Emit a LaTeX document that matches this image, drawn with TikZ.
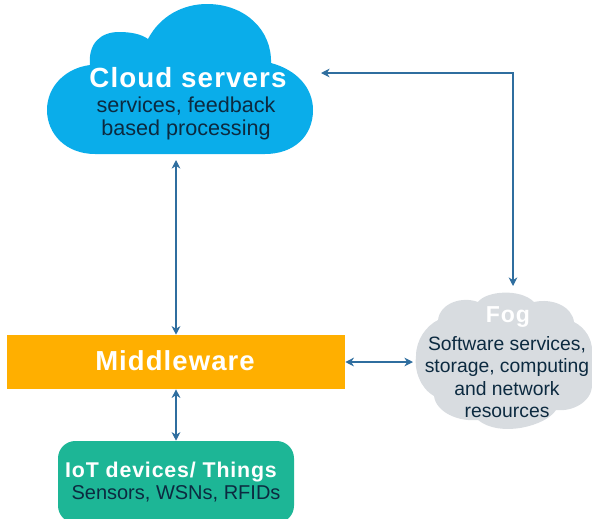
\documentclass[tikz,border=0pt]{standalone}
\usepackage{fontspec}
\setmainfont{Liberation Sans}
\definecolor{cloudblue}{HTML}{0AADEA}
\definecolor{foggrey}{HTML}{D8DCE0}
\definecolor{midorange}{HTML}{FFAF00}
\definecolor{iotgreen}{HTML}{1DB696}
\definecolor{linkblue}{HTML}{2F6E9F}
\definecolor{darktext}{HTML}{0C2A40}
\usetikzlibrary{arrows.meta}
\tikzset{
  link/.style={{Stealth[length=6.5pt,width=6.5pt]}-{Stealth[length=6.5pt,width=6.5pt]}, linkblue, line width=0.8pt},
  title/.style={text=white, font=\bfseries\addfontfeatures{LetterSpace=4}\fontsize{#1}{#1}\selectfont},
  body/.style={text=darktext, align=center, font=\fontsize{#1}{16.8}\selectfont}
}
\begin{document}
\begin{tikzpicture}[x=0.75pt,y=-0.75pt]
        \useasboundingbox (0,0) rectangle (592,518);

        % Draw clouds
        \fill[cloudblue] (90,65) .. controls (88,44) and (100,32) .. (119,32)
            .. controls (131,32) and (141,34) .. (148,39)
            .. controls (160,16) and (183,4) .. (207,4)
            .. controls (245,4) and (272,30) .. (271,63)
            .. controls (297,70) and (313,88) .. (313,110)
            .. controls (313,136) and (294,154) .. (265,154)
            -- (95,154)
            .. controls (66,154) and (47,134) .. (47,110)
            .. controls (47,86) and (66,68) .. (90,65) -- cycle;
        \fill[foggrey] (438,320) .. controls (440,303) and (462,296) .. (478,302)
            .. controls (486,291) and (520,288) .. (534,302)
            .. controls (552,298) and (572,306) .. (574,322)
            .. controls (586,328) and (592,340) .. (592,350)
            -- (592,385)
            .. controls (592,402) and (572,412) .. (556,410)
            .. controls (546,426) and (500,438) .. (478,420)
            .. controls (458,422) and (436,412) .. (434,396)
            .. controls (420,388) and (414,370) .. (416,356)
            .. controls (416,340) and (426,326) .. (438,320) -- cycle;

        % Draw boxes
        \node[fill=midorange, minimum width=253.5pt, minimum height=40.5pt, inner sep=0pt] (middleware) at (176,362) {};
        \node[fill=iotgreen, rounded corners=13pt, minimum width=177pt, minimum height=61.5pt, inner sep=0pt] (iot) at (176,482) {};

        % Add labels
        \node[title=20.8] (cloudlabel) at (188,78) {Cloud servers};
        \node[body=16.2] (cloudtext) at (186,118) {services, feedback\\[0.5pt]based processing};
        \node[title=17.3] (foglabel) at (508,317) {Fog};
        \node[body=14.5] (fogtext) at (507,377) {Software services,\\storage, computing\\and network\\resources};
        \node[title=20.6] (midlabel) at (175,361) {Middleware};
        \node[title=16] (iotlabel) at (171,472) {IoT devices/ Things};
        \node[body=15] (iottext) at (176,494) {Sensors, WSNs, RFIDs};

        % Define connector ends
        \coordinate (cloudbottom) at (176,160);
        \coordinate (cloudright) at (321,73);
        \coordinate (fogtop) at (513,286);
        \coordinate (fogleft) at (413,362);

        % Draw connectors
        \draw[link] (cloudbottom) -- (middleware.north);
        \draw[link] (middleware.south) -- (iot.north);
        \draw[link] (middleware.east) -- (fogleft);
        \draw[link] (cloudright) -| (fogtop);
\end{tikzpicture}
\end{document}
